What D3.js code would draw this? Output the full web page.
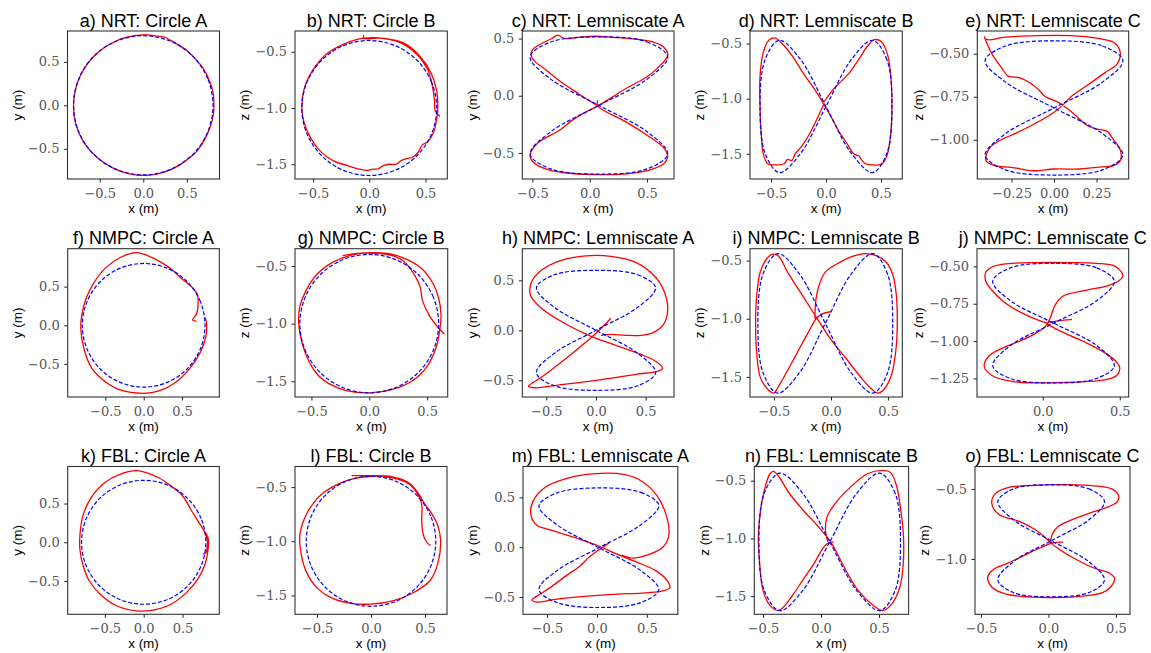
<!DOCTYPE html>
<html>
<head>
<meta charset="utf-8">
<script src="https://cdn.jsdelivr.net/npm/d3@7"></script>
<style>
  body { margin: 0; background: #fff; }
  .title { font-family: 'Liberation Sans', Arial, sans-serif; font-size: 18px; fill: #000; }
  .lab { font-family: 'Liberation Sans', Arial, sans-serif; font-size: 13.5px; fill: #000; }
</style>
</head>
<body>
<div id="chart"></div>
<script>
// ---- data ----
const titles = [
  'a) NRT: Circle A', 'b) NRT: Circle B', 'c) NRT: Lemniscate A', 'd) NRT: Lemniscate B', 'e) NRT: Lemniscate C',
  'f) NMPC: Circle A', 'g) NMPC: Circle B', 'h) NMPC: Lemniscate A', 'i) NMPC: Lemniscate B', 'j) NMPC: Lemniscate C',
  'k) FBL: Circle A', 'l) FBL: Circle B', 'm) FBL: Lemniscate A', 'n) FBL: Lemniscate B', 'o) FBL: Lemniscate C'
];
const yLabels = ['y (m)', 'z (m)', 'y (m)', 'z (m)', 'z (m)'];

const t5 = [-0.5, 0, 0.5];
const tz = [-1.5, -1.0, -0.5];
const xTicks = [t5, t5, t5, t5, [-0.25, 0, 0.25],
                t5, t5, t5, t5, [0, 0.5],
                t5, t5, t5, t5, t5];
const yTicks = [t5, tz, t5, tz, [-1.0, -0.75, -0.5],
                t5, tz, t5, tz, [-1.25, -1.0, -0.75, -0.5],
                t5, tz, t5, tz, [-1.0, -0.5]];
const tickFmt = ['.1f', '.1f', '.1f', '.1f', '.2f',
                 '.1f', '.1f', '.1f', '.1f', '.1f',
                 '.1f', '.1f', '.1f', '.1f', '.1f'];
const yFmt = ['.1f', '.1f', '.1f', '.1f', '.2f',
              '.1f', '.1f', '.1f', '.1f', '.2f',
              '.1f', '.1f', '.1f', '.1f', '.1f'];

// reference paths (blue dashed)
const refCircA = [[0.8,0],[0.739,0.306],[0.566,0.566],[0.306,0.739],[0,0.8],[-0.306,0.739],[-0.566,0.566],[-0.739,0.306],
  [-0.8,0],[-0.739,-0.306],[-0.566,-0.566],[-0.306,-0.739],[0,-0.8],[0.306,-0.739],[0.566,-0.566],[0.739,-0.306]];
const refCircB = [[0.6,-1],[0.554,-0.77],[0.424,-0.576],[0.23,-0.446],[0,-0.4],[-0.23,-0.446],[-0.424,-0.576],[-0.554,-0.77],
  [-0.6,-1],[-0.554,-1.23],[-0.424,-1.424],[-0.23,-1.554],[0,-1.6],[0.23,-1.554],[0.424,-1.424],[0.554,-1.23]];
const refC = [[0.08,0.515],[0.50,0.47],[0.68,0.34],[0.50,0.145],[0.08,-0.085],[-0.34,-0.315],[-0.52,-0.51],[-0.34,-0.64],
  [0.08,-0.685],[0.50,-0.64],[0.68,-0.51],[0.50,-0.315],[0.08,-0.085],[-0.34,0.145],[-0.52,0.34],[-0.34,0.47]];
const refD = [[0.6,-1.07],[0.554,-0.646],[0.424,-0.47],[0.23,-0.646],[0,-1.07],[-0.23,-1.494],[-0.424,-1.67],[-0.554,-1.494],
  [-0.6,-1.07],[-0.554,-0.646],[-0.424,-0.47],[-0.23,-0.646],[0,-1.07],[0.23,-1.494],[0.424,-1.67],[0.554,-1.494]];
const refE = [[0,-0.425],[0.285,-0.455],[0.405,-0.54],[0.285,-0.665],[0,-0.815],[-0.285,-0.965],[-0.405,-1.09],[-0.285,-1.175],
  [0,-1.205],[0.285,-1.175],[0.405,-1.09],[0.285,-0.965],[0,-0.815],[-0.285,-0.665],[-0.405,-0.54],[-0.285,-0.455]];
const refH = [[0,0.6],[0.42,0.555],[0.6,0.425],[0.42,0.23],[0,0],[-0.42,-0.23],[-0.6,-0.425],[-0.42,-0.555],
  [0,-0.6],[0.42,-0.555],[0.6,-0.425],[0.42,-0.23],[0,0],[-0.42,0.23],[-0.6,0.425],[-0.42,0.555]];
const refI = [[0.54,-1.04],[0.495,-0.616],[0.367,-0.44],[0.176,-0.616],[-0.05,-1.04],[-0.276,-1.464],[-0.467,-1.64],[-0.595,-1.464],
  [-0.64,-1.04],[-0.595,-0.616],[-0.467,-0.44],[-0.276,-0.616],[-0.05,-1.04],[0.176,-1.464],[0.367,-1.64],[0.495,-1.464]];
const refJ = [[0.07,-0.48],[0.35,-0.51],[0.465,-0.60],[0.35,-0.73],[0.07,-0.88],[-0.21,-1.03],[-0.325,-1.165],[-0.21,-1.25],
  [0.07,-1.28],[0.35,-1.25],[0.465,-1.165],[0.35,-1.03],[0.07,-0.88],[-0.21,-0.73],[-0.325,-0.60],[-0.21,-0.51]];
const refM = [[0.02,0.595],[0.44,0.55],[0.62,0.42],[0.44,0.225],[0.02,-0.005],[-0.40,-0.235],[-0.58,-0.425],[-0.40,-0.555],
  [0.02,-0.605],[0.44,-0.555],[0.62,-0.425],[0.44,-0.235],[0.02,-0.005],[-0.40,0.225],[-0.58,0.415],[-0.40,0.545]];
const refN = [[0.685,-1.03],[0.639,-0.609],[0.506,-0.435],[0.308,-0.609],[0.075,-1.03],[-0.158,-1.451],[-0.356,-1.625],[-0.489,-1.451],
  [-0.535,-1.03],[-0.489,-0.609],[-0.356,-0.435],[-0.158,-0.609],[0.075,-1.03],[0.308,-1.451],[0.506,-1.625],[0.639,-1.451]];
const refO = [[0.02,-0.47],[0.30,-0.50],[0.415,-0.59],[0.30,-0.72],[0.02,-0.87],[-0.26,-1.02],[-0.375,-1.15],[-0.26,-1.24],
  [0.02,-1.27],[0.30,-1.24],[0.415,-1.15],[0.30,-1.02],[0.02,-0.87],[-0.26,-0.72],[-0.375,-0.59],[-0.26,-0.50]];

// flown trajectories (red)
const runA = [[0.81,0.0],[0.8,0.15],[0.76,0.28],[0.69,0.42],[0.6,0.53],[0.5,0.63],[0.36,0.72],[0.24,0.785],[0.15,0.795],[0.05,0.81],
  [-0.1,0.8],[-0.3,0.745],[-0.5,0.625],[-0.65,0.465],[-0.755,0.26],[-0.8,0.0],[-0.775,-0.22],[-0.68,-0.43],[-0.53,-0.6],[-0.35,-0.72],
  [-0.15,-0.79],[0.05,-0.805],[0.25,-0.765],[0.42,-0.685],[0.5,-0.625],[0.56,-0.58],[0.62,-0.52],[0.7,-0.4],[0.77,-0.24],[0.805,-0.1],[0.81,0.0]];
const runB = [[-0.05,-0.35],[-0.05,-0.38],[0.1,-0.38],[0.3,-0.42],[0.45,-0.54],[0.55,-0.69],[0.6,-0.85],[0.61,-0.98],[0.6,-1.1],[0.57,-1.22],
  [0.52,-1.3],[0.47,-1.33],[0.43,-1.4],[0.38,-1.44],[0.33,-1.45],[0.28,-1.47],[0.24,-1.5],[0.18,-1.5],[0.13,-1.51],[0.08,-1.54],[0.02,-1.545],
  [-0.02,-1.555],[-0.1,-1.54],[-0.2,-1.51],[-0.32,-1.47],[-0.43,-1.39],[-0.52,-1.27],[-0.58,-1.13],[-0.6,-1.0],[-0.58,-0.83],[-0.5,-0.66],
  [-0.38,-0.52],[-0.22,-0.43],[-0.05,-0.38],[0.15,-0.385],[0.3,-0.43],[0.43,-0.53],[0.52,-0.66],[0.56,-0.8],[0.58,-0.93],[0.585,-1.02],[0.63,-1.075]];
const runC = [[0.07,-0.04],[0.07,-0.09],[0.3,-0.22],[0.5,-0.345],[0.64,-0.45],[0.68,-0.53],[0.64,-0.6],[0.5,-0.655],[0.3,-0.685],[0.08,-0.69],
  [-0.15,-0.68],[-0.35,-0.65],[-0.47,-0.6],[-0.52,-0.53],[-0.48,-0.44],[-0.42,-0.39],[-0.26,-0.3],[-0.16,-0.22],[-0.056,-0.154],[0.07,-0.09],
  [0.2,-0.01],[0.32,0.065],[0.42,0.12],[0.5,0.166],[0.6,0.25],[0.68,0.35],[0.65,0.42],[0.55,0.47],[0.35,0.5],[0.2,0.51],[0.05,0.52],
  [-0.1,0.51],[-0.22,0.5],[-0.28,0.53],[-0.33,0.5],[-0.45,0.44],[-0.5,0.4],[-0.51,0.35],[-0.48,0.3],[-0.4,0.24],[-0.25,0.12],[-0.1,0.02],[0.07,-0.09]];
const runD = [[-0.02,-1.03],[0.08,-0.9],[0.2,-0.78],[0.3,-0.64],[0.38,-0.52],[0.44,-0.465],[0.5,-0.48],[0.56,-0.6],[0.59,-0.8],[0.6,-1.05],
  [0.59,-1.3],[0.56,-1.5],[0.52,-1.58],[0.48,-1.6],[0.42,-1.6],[0.36,-1.59],[0.32,-1.55],[0.3,-1.52],[0.25,-1.5],[0.2,-1.42],[0.12,-1.3],
  [0.05,-1.17],[-0.02,-1.05],[-0.1,-0.92],[-0.2,-0.78],[-0.3,-0.62],[-0.4,-0.5],[-0.46,-0.45],[-0.52,-0.47],[-0.57,-0.58],[-0.6,-0.8],
  [-0.6,-1.05],[-0.59,-1.3],[-0.57,-1.5],[-0.53,-1.59],[-0.45,-1.6],[-0.38,-1.59],[-0.35,-1.55],[-0.31,-1.56],[-0.28,-1.5],[-0.22,-1.43],
  [-0.15,-1.32],[-0.08,-1.18],[-0.02,-1.05]];
const runE = [[-0.41,-0.40],[-0.39,-0.45],[-0.36,-0.51],[-0.31,-0.58],[-0.27,-0.63],[-0.2,-0.64],[-0.14,-0.67],[-0.09,-0.71],[-0.05,-0.75],
  [0.02,-0.78],[0.08,-0.82],[0.14,-0.87],[0.2,-0.92],[0.26,-0.94],[0.31,-0.95],[0.35,-1.0],[0.39,-1.06],[0.39,-1.12],[0.35,-1.15],[0.25,-1.16],
  [0.15,-1.17],[0.0,-1.17],[-0.12,-1.18],[-0.25,-1.16],[-0.35,-1.15],[-0.4,-1.12],[-0.38,-1.05],[-0.33,-1.01],[-0.22,-0.96],[-0.1,-0.9],
  [0.0,-0.84],[0.06,-0.79],[0.1,-0.75],[0.2,-0.68],[0.3,-0.61],[0.37,-0.56],[0.39,-0.5],[0.36,-0.44],[0.25,-0.41],[0.1,-0.395],[-0.1,-0.395],
  [-0.3,-0.405],[-0.38,-0.42],[-0.41,-0.41]];
const runF = [[0.69,0.05],[0.64,0.07],[0.69,0.15],[0.71,0.3],[0.70,0.40],[0.62,0.5],[0.5,0.6],[0.37,0.72],[0.2,0.83],[0.0,0.92],[-0.1,0.94],
  [-0.3,0.88],[-0.5,0.74],[-0.65,0.55],[-0.75,0.35],[-0.81,0.12],[-0.82,-0.05],[-0.78,-0.3],[-0.68,-0.55],[-0.5,-0.73],[-0.3,-0.84],
  [0.0,-0.88],[0.2,-0.85],[0.4,-0.75],[0.6,-0.56],[0.74,-0.35],[0.81,-0.15],[0.82,0.02],[0.8,0.1]];
const runG = [[-0.23,-0.41],[-0.1,-0.39],[0.05,-0.385],[0.2,-0.40],[0.32,-0.44],[0.45,-0.52],[0.55,-0.65],[0.6,-0.78],[0.62,-0.92],[0.61,-1.05],
  [0.58,-1.2],[0.5,-1.37],[0.38,-1.49],[0.2,-1.57],[0.0,-1.6],[-0.2,-1.58],[-0.35,-1.52],[-0.44,-1.45],[-0.52,-1.33],[-0.58,-1.17],[-0.61,-1.0],
  [-0.6,-0.85],[-0.55,-0.72],[-0.45,-0.57],[-0.3,-0.46],[-0.1,-0.395],[0.05,-0.39],[0.2,-0.41],[0.3,-0.46],[0.38,-0.56],[0.44,-0.68],
  [0.46,-0.8],[0.52,-0.93],[0.6,-1.04],[0.65,-1.09]];
const runH = [[0.15,0.12],[0.0,-0.03],[-0.3,-0.28],[-0.55,-0.47],[-0.66,-0.54],[-0.68,-0.56],[-0.6,-0.575],[-0.4,-0.55],[0.0,-0.5],[0.4,-0.44],
  [0.62,-0.41],[0.67,-0.38],[0.6,-0.31],[0.45,-0.24],[0.2,-0.15],[-0.05,-0.06],[-0.3,0.06],[-0.55,0.22],[-0.66,0.35],[-0.65,0.48],[-0.55,0.6],
  [-0.35,0.7],[-0.1,0.745],[0.15,0.74],[0.4,0.68],[0.6,0.53],[0.7,0.35],[0.72,0.18],[0.68,0.06],[0.58,-0.02],[0.45,-0.05],[0.3,-0.05],[0.15,-0.04],[0.05,-0.05]];
const runI = [[0.0,-0.94],[-0.08,-0.96],[-0.13,-1.0],[-0.2,-1.12],[-0.3,-1.3],[-0.4,-1.48],[-0.47,-1.6],[-0.5,-1.64],[-0.56,-1.6],[-0.62,-1.5],
  [-0.65,-1.3],[-0.66,-1.05],[-0.65,-0.8],[-0.62,-0.6],[-0.56,-0.48],[-0.51,-0.445],[-0.46,-0.46],[-0.38,-0.6],[-0.27,-0.77],[-0.14,-0.97],
  [0.0,-1.18],[0.13,-1.34],[0.25,-1.49],[0.35,-1.6],[0.41,-1.64],[0.47,-1.6],[0.53,-1.48],[0.57,-1.25],[0.58,-1.0],[0.57,-0.78],[0.54,-0.62],
  [0.48,-0.51],[0.4,-0.46],[0.3,-0.44],[0.17,-0.47],[0.05,-0.53],[-0.05,-0.6],[-0.1,-0.7],[-0.13,-0.82],[-0.14,-0.95],[-0.14,-1.0]];
const runJ = [[0.19,-0.855],[0.1,-0.865],[0.03,-0.88],[0.15,-0.95],[0.28,-1.01],[0.39,-1.07],[0.47,-1.13],[0.5,-1.18],[0.48,-1.23],[0.4,-1.26],
  [0.2,-1.275],[0.0,-1.28],[-0.2,-1.27],[-0.33,-1.23],[-0.38,-1.17],[-0.35,-1.1],[-0.27,-1.05],[-0.15,-1.0],[-0.05,-0.95],[0.02,-0.9],
  [0.05,-0.84],[0.08,-0.76],[0.13,-0.70],[0.28,-0.66],[0.42,-0.63],[0.49,-0.6],[0.52,-0.56],[0.47,-0.5],[0.35,-0.48],[0.15,-0.475],
  [-0.05,-0.475],[-0.2,-0.48],[-0.32,-0.5],[-0.37,-0.54],[-0.37,-0.6],[-0.33,-0.66],[-0.25,-0.74],[-0.14,-0.81],[-0.03,-0.86],[0.03,-0.88]];
const runK = [[0.76,-0.155],[0.8,-0.14],[0.815,-0.08],[0.82,0.02],[0.78,0.14],[0.72,0.24],[0.62,0.4],[0.5,0.6],[0.36,0.72],[0.2,0.83],[0.0,0.91],
  [-0.1,0.925],[-0.3,0.88],[-0.5,0.77],[-0.68,0.57],[-0.78,0.35],[-0.82,0.1],[-0.82,-0.1],[-0.78,-0.3],[-0.7,-0.5],[-0.55,-0.68],[-0.35,-0.82],
  [-0.1,-0.885],[0.1,-0.88],[0.35,-0.8],[0.55,-0.65],[0.7,-0.47],[0.79,-0.28],[0.83,-0.08],[0.83,0.05],[0.8,0.12]];
const runL = [[-0.18,-0.395],[0.0,-0.395],[0.2,-0.405],[0.35,-0.46],[0.44,-0.56],[0.5,-0.66],[0.56,-0.74],[0.62,-0.86],[0.645,-1.0],[0.62,-1.2],
  [0.55,-1.36],[0.4,-1.47],[0.2,-1.55],[0.0,-1.58],[-0.2,-1.57],[-0.37,-1.52],[-0.5,-1.43],[-0.6,-1.28],[-0.65,-1.1],[-0.66,-0.95],[-0.62,-0.8],
  [-0.55,-0.67],[-0.45,-0.56],[-0.3,-0.47],[-0.15,-0.42],[0.0,-0.40],[0.2,-0.415],[0.35,-0.47],[0.44,-0.58],[0.47,-0.66],[0.47,-0.8],
  [0.48,-0.92],[0.51,-1.0],[0.55,-1.04]];
const runM = [[0.13,0.05],[0.06,0.0],[0.0,-0.04],[-0.08,-0.1],[-0.17,-0.19],[-0.3,-0.28],[-0.42,-0.37],[-0.55,-0.46],[-0.65,-0.53],[-0.6,-0.55],
  [-0.4,-0.52],[-0.1,-0.49],[0.2,-0.47],[0.45,-0.46],[0.65,-0.44],[0.73,-0.41],[0.7,-0.33],[0.58,-0.23],[0.4,-0.15],[0.2,-0.07],[0.0,0.02],
  [-0.2,0.09],[-0.45,0.17],[-0.6,0.22],[-0.66,0.32],[-0.64,0.46],[-0.52,0.6],[-0.3,0.69],[-0.05,0.735],[0.2,0.74],[0.42,0.68],[0.6,0.52],
  [0.7,0.3],[0.72,0.12],[0.66,0.0],[0.5,-0.08],[0.35,-0.11],[0.25,-0.08]];
const runN = [[0.11,-1.03],[0.06,-1.04],[0.02,-1.08],[-0.05,-1.2],[-0.15,-1.35],[-0.25,-1.5],[-0.33,-1.6],[-0.37,-1.625],[-0.44,-1.58],[-0.5,-1.45],
  [-0.53,-1.2],[-0.54,-0.98],[-0.52,-0.75],[-0.48,-0.55],[-0.44,-0.44],[-0.41,-0.42],[-0.36,-0.47],[-0.28,-0.6],[-0.15,-0.76],[-0.03,-0.89],
  [0.09,-1.04],[0.2,-1.25],[0.32,-1.45],[0.45,-1.58],[0.53,-1.625],[0.6,-1.58],[0.68,-1.42],[0.71,-1.2],[0.71,-0.97],[0.68,-0.7],[0.65,-0.54],
  [0.6,-0.43],[0.53,-0.41],[0.4,-0.44],[0.25,-0.56],[0.12,-0.7],[0.05,-0.82],[0.04,-0.95],[0.06,-1.03]];
const runO = [[0.11,-0.88],[0.03,-0.885],[-0.06,-0.92],[-0.15,-0.96],[-0.3,-1.03],[-0.4,-1.07],[-0.45,-1.13],[-0.42,-1.2],[-0.32,-1.25],
  [-0.15,-1.27],[0.05,-1.275],[0.25,-1.265],[0.4,-1.24],[0.46,-1.2],[0.49,-1.14],[0.45,-1.1],[0.35,-1.07],[0.2,-1.0],[0.08,-0.93],[0.02,-0.88],
  [0.03,-0.82],[0.07,-0.77],[0.15,-0.73],[0.3,-0.675],[0.45,-0.625],[0.51,-0.59],[0.52,-0.55],[0.47,-0.5],[0.3,-0.475],[0.1,-0.47],
  [-0.1,-0.475],[-0.3,-0.49],[-0.39,-0.53],[-0.42,-0.6],[-0.37,-0.68],[-0.22,-0.73],[-0.1,-0.79],[-0.02,-0.85],[0.02,-0.89]];

const refs = [refCircA, refCircB, refC, refD, refE, refCircA, refCircB, refH, refI, refJ, refCircA, refCircB, refM, refN, refO];
const runs = [runA, runB, runC, runD, runE, runF, runG, runH, runI, runJ, runK, runL, runM, runN, runO];

// ---- layout: plot box in px and visible data window ----
// [left, top, right, bottom, xmin, xmax, ymin, ymax]
const layout = [
  [67.5, 31, 219.5, 179, -0.869, 0.874, -0.847, 0.854],
  [295, 31, 447.3, 179, -0.661, 0.694, -1.631, -0.316],
  [522.3, 31, 674, 179, -0.588, 0.735, -0.728, 0.566],
  [750, 31, 902.3, 179, -0.691, 0.694, -1.728, -0.386],
  [977.3, 31, 1128.7, 179, -0.451, 0.439, -1.228, -0.368],
  [67.7, 248.7, 219.3, 397, -0.991, 0.986, -0.928, 0.991],
  [295, 248.7, 447.7, 397, -0.642, 0.678, -1.636, -0.350],
  [522.3, 248.7, 674, 397, -0.742, 0.785, -0.667, 0.816],
  [750, 248.7, 902.3, 397, -0.709, 0.624, -1.673, -0.398],
  [977, 248.7, 1128.7, 397, -0.427, 0.558, -1.374, -0.382],
  [67.7, 466.5, 219.3, 614.3, -0.978, 0.973, -0.930, 0.978],
  [295, 466.5, 447, 614.3, -0.704, 0.704, -1.674, -0.310],
  [523, 466.5, 677.8, 614.3, -0.74, 0.81, -0.673, 0.81],
  [754.3, 466.5, 908.6, 614.3, -0.575, 0.755, -1.657, -0.377],
  [975, 466.5, 1130, 614.3, -0.544, 0.604, -1.395, -0.34]
];

const svg = d3.select('#chart').append('svg')
  .attr('width', 1151)
  .attr('height', 653);

titles.forEach((title, i) => {
  const L = layout[i];
  const x = d3.scaleLinear().domain([L[4], L[5]]).range([L[0], L[2]]);
  const y = d3.scaleLinear().domain([L[6], L[7]]).range([L[3], L[1]]);
  const g = svg.append('g');

  const line = d3.line().x(d => x(d[0])).y(d => y(d[1]));

  g.append('path')
    .datum(runs[i])
    .attr('d', line.curve(d3.curveCatmullRom.alpha(0.5)))
    .attr('fill', 'none')
    .attr('stroke', '#ff0000')
    .attr('stroke-width', 1.3)
    .attr('stroke-linejoin', 'round');

  g.append('path')
    .datum(refs[i])
    .attr('d', line.curve(d3.curveCatmullRomClosed.alpha(0.5)))
    .attr('fill', 'none')
    .attr('stroke', '#0000ff')
    .attr('stroke-width', 1.2)
    .attr('stroke-dasharray', '4,2');

  const xa = g.append('g')
    .attr('transform', 'translate(0,' + L[3] + ')')
    .call(d3.axisBottom(x).tickValues(xTicks[i]).tickFormat(d3.format(tickFmt[i])).tickSize(3.5).tickPadding(6));
  const ya = g.append('g')
    .attr('transform', 'translate(' + L[0] + ',0)')
    .call(d3.axisLeft(y).tickValues(yTicks[i]).tickFormat(d3.format(yFmt[i])).tickSize(3.5).tickPadding(4.5));
  [xa, ya].forEach(a => {
    a.select('.domain').remove();
    a.attr('font-family', 'DejaVu Serif').attr('font-size', 13);
    a.selectAll('.tick line').attr('stroke', '#222');
    a.selectAll('.tick text').attr('fill', '#555');
  });

  g.append('rect')
    .attr('x', L[0]).attr('y', L[1])
    .attr('width', L[2] - L[0]).attr('height', L[3] - L[1])
    .attr('fill', 'none')
    .attr('stroke', '#333')
    .attr('stroke-width', 1.1);

  g.append('text')
    .attr('class', 'title')
    .attr('x', (L[0] + L[2]) / 2)
    .attr('y', L[1] - 4.5)
    .attr('text-anchor', 'middle')
    .text(title);

  g.append('text')
    .attr('class', 'lab')
    .attr('x', (L[0] + L[2]) / 2)
    .attr('y', L[3] + 34)
    .attr('text-anchor', 'middle')
    .text('x (m)');

  const bb = ya.node().getBBox();
  const lx = L[0] + bb.x - 6;
  const ly = (L[1] + L[3]) / 2;
  g.append('text')
    .attr('class', 'lab')
    .attr('transform', 'translate(' + lx + ',' + ly + ') rotate(-90)')
    .attr('text-anchor', 'middle')
    .text(yLabels[i % 5]);
});
</script>
</body>
</html>
